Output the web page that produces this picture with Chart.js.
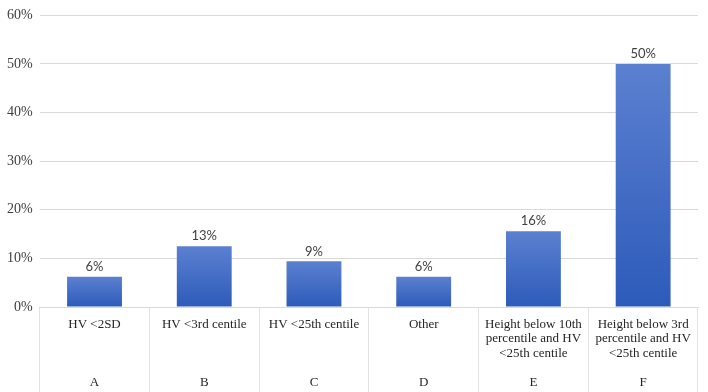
<!DOCTYPE html>
<html>
<head>
<meta charset="utf-8">
<script src="https://cdn.jsdelivr.net/npm/chart.js@4/dist/chart.umd.min.js"></script>
<style>
  html, body { margin: 0; padding: 0; background: #fff; }
  #wrap { width: 708px; height: 392px; }
</style>
</head>
<body>
<div id="wrap"><canvas id="chart"></canvas></div>
<script>
// categories (label lines + letter row) and values in percent
const letters = ['A', 'B', 'C', 'D', 'E', 'F'];
const labelLines = [
    ['HV <2SD'],
    ['HV <3rd centile'],
    ['HV <25th centile'],
    ['Other'],
    ['Height below 10th', 'percentile and HV', '<25th centile'],
    ['Height below 3rd', 'percentile and HV', '<25th centile']
];
const values = [6.25, 12.5, 9.4, 6.25, 15.6, 50];
const valueLabels = ['6%', '13%', '9%', '6%', '16%', '50%'];
const yTicks = [0, 10, 20, 30, 40, 50, 60];

// pad every label to four lines so the letters line up on one row
const categories = labelLines.map((lines, i) => {
    const out = lines.slice();
    while (out.length < 4) out.push('');
    out.push(letters[i]);
    return out;
});

// per-bar vertical gradient, light at the top, darker at the bottom
function barFill(context) {
    const chart = context.chart;
    const area = chart.chartArea;
    if (!area) return '#3f6cc6';
    const y = chart.scales.y;
    const top = y.getPixelForValue(values[context.dataIndex]);
    const bottom = y.getPixelForValue(0);
    const g = chart.ctx.createLinearGradient(0, top, 0, bottom);
    g.addColorStop(0, '#5b80d0');
    g.addColorStop(1, '#2d5bba');
    return g;
}

const valueLabelPlugin = {
    id: 'valueLabels',
    afterDatasetsDraw(chart) {
        const ctx = chart.ctx;
        const meta = chart.getDatasetMeta(0);
        ctx.save();
        ctx.font = '13px Lato, "Liberation Sans", sans-serif';
        ctx.fillStyle = '#404040';
        ctx.textAlign = 'center';
        ctx.textBaseline = 'middle';
        meta.data.forEach((bar, i) => {
            ctx.fillText(valueLabels[i], bar.x, bar.y - 10);
        });
        ctx.restore();
    }
};

new Chart(document.getElementById('chart'), {
    type: 'bar',
    data: {
        labels: categories,
        datasets: [{
            data: values,
            backgroundColor: barFill,
            borderWidth: 0,
            barPercentage: 0.5,
            categoryPercentage: 1
        }]
    },
    options: {
        responsive: true,
        maintainAspectRatio: false,
        animation: false,
        layout: { padding: { top: -3, right: 10, left: 0, bottom: 0 } },
        plugins: {
            legend: { display: false },
            tooltip: { enabled: false }
        },
        scales: {
            x: {
                offset: true,
                border: { display: true, color: '#d9d9d9' },
                grid: {
                    offset: true,
                    drawOnChartArea: false,
                    drawTicks: true,
                    tickLength: 86,
                    color: '#e3e3e3'
                },
                // labels sit inside the tall tick marks, like a table under the axis
                afterFit(axis) {
                    axis.height = 85;
                },
                ticks: {
                    padding: -76,
                    maxRotation: 0,
                    autoSkip: false,
                    color: '#262626',
                    font: { family: '"Liberation Serif", "Times New Roman", serif', size: 13, lineHeight: 1.12 }
                }
            },
            y: {
                min: 0,
                max: 60,
                afterBuildTicks(axis) {
                    axis.ticks = yTicks.map(v => ({ value: v }));
                },
                border: { display: false },
                grid: { color: '#d9d9d9', drawTicks: false },
                ticks: {
                    padding: 7,
                    color: '#404040',
                    font: { family: '"Liberation Serif", "Times New Roman", serif', size: 14 },
                    callback: v => v + '%'
                }
            }
        }
    },
    plugins: [valueLabelPlugin]
});
</script>
</body>
</html>
